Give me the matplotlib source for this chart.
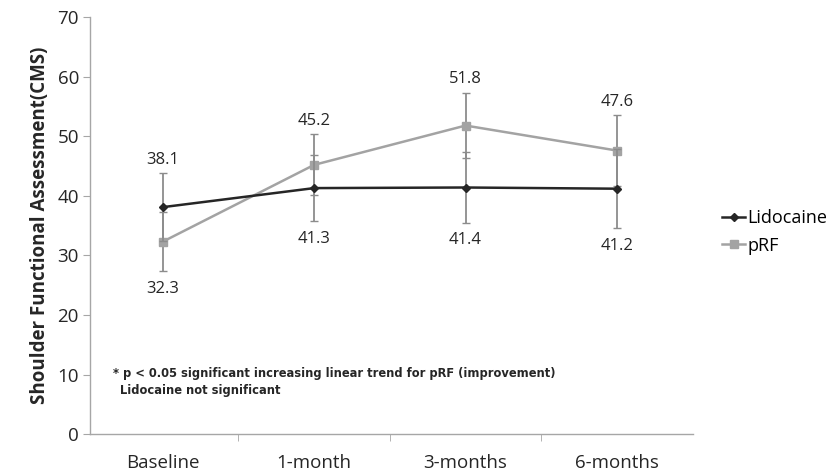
import numpy as np
import matplotlib.pyplot as plt
from matplotlib.lines import Line2D

plt.rcParams['font.family'] = ['Open Sans', 'DejaVu Sans']

# ---------- data ----------
categories = ["Baseline", "1-month", "3-months", "6-months"]
lido_mean = [38.1, 41.3, 41.4, 41.2]
lido_sd = [5.7, 5.6, 5.9, 6.6]
prf_mean = [32.3, 45.2, 51.8, 47.6]
prf_sd = [5.0, 5.1, 5.5, 5.9]
yticks = [0, 10, 20, 30, 40, 50, 60, 70]

LIDO_C = '#262626'
PRF_C = '#a3a3a3'
ERR_C = '#8c8c8c'
AXIS_C = '#a6a6a6'
TXT_C = '#262626'

fig = plt.figure(figsize=(8.29, 4.76), dpi=100)
ax = fig.add_axes([0.1086, 0.088, 0.727, 0.876])

x = np.arange(len(categories))

ax.errorbar(x, prf_mean, yerr=prf_sd, color=PRF_C, ecolor=ERR_C, elinewidth=1.3,
            capsize=3, capthick=1.0, lw=1.8, marker='s', ms=6, mfc=PRF_C, mec=PRF_C,
            zorder=2)
ax.errorbar(x, lido_mean, yerr=lido_sd, color=LIDO_C, ecolor=ERR_C, elinewidth=1.3,
            capsize=3, capthick=1.0, lw=1.8, marker='D', ms=4, mfc=LIDO_C, mec=LIDO_C,
            zorder=3)

# value labels
for i in range(len(x)):
    if i == 0:
        ax.text(x[i], lido_mean[i] + lido_sd[i] + 0.9, f"{lido_mean[i]}", ha='center', va='bottom', fontsize=12, color=TXT_C)
        ax.text(x[i], prf_mean[i] - prf_sd[i] - 1.6, f"{prf_mean[i]}", ha='center', va='top', fontsize=12, color=TXT_C)
    else:
        ax.text(x[i], prf_mean[i] + prf_sd[i] + 0.9, f"{prf_mean[i]}", ha='center', va='bottom', fontsize=12, color=TXT_C)
        ax.text(x[i], lido_mean[i] - lido_sd[i] - 1.6, f"{lido_mean[i]}", ha='center', va='top', fontsize=12, color=TXT_C)

ax.set_xlim(-0.48, 3.5)
ax.set_ylim(0, 70)
ax.set_yticks(yticks)
ax.set_yticklabels([str(v) for v in yticks], fontsize=13.5, color=TXT_C)
ax.set_xticks(x)
ax.set_xticklabels(categories, fontsize=13.5, color=TXT_C)
ax.tick_params(axis='x', length=0, pad=14)
ax.set_xticks([0.5, 1.5, 2.5], minor=True)
ax.tick_params(axis='x', which='minor', length=5, color=AXIS_C, direction='out')
ax.tick_params(axis='y', length=5, color=AXIS_C, pad=3)

for s in ['top', 'right']:
    ax.spines[s].set_visible(False)
for s in ['left', 'bottom']:
    ax.spines[s].set_color(AXIS_C)
    ax.spines[s].set_linewidth(1.0)

ax.set_ylabel("Shoulder Functional Assessment(CMS)", fontsize=13.5, fontweight='bold',
              labelpad=5, color=TXT_C)

ax.text(-0.33, 10.2, "* p < 0.05 significant increasing linear trend for pRF (improvement)",
        fontsize=8.3, fontweight='bold', va='center', ha='left', family='DejaVu Sans', color=TXT_C)
ax.text(-0.285, 7.3, "Lidocaine not significant", fontsize=8.3, fontweight='bold',
        va='center', ha='left', family='DejaVu Sans', color=TXT_C)

handles = [Line2D([], [], color=LIDO_C, lw=1.8, marker='D', ms=4),
           Line2D([], [], color=PRF_C, lw=1.8, marker='s', ms=6)]
fig.legend(handles, ['Lidocaine', 'pRF'], loc='center left', bbox_to_anchor=(0.862, 0.513),
           frameon=False, fontsize=13, handlelength=1.3, handletextpad=0.1,
           labelspacing=0.55, borderaxespad=0)

fig.savefig('out.png', dpi=100)
